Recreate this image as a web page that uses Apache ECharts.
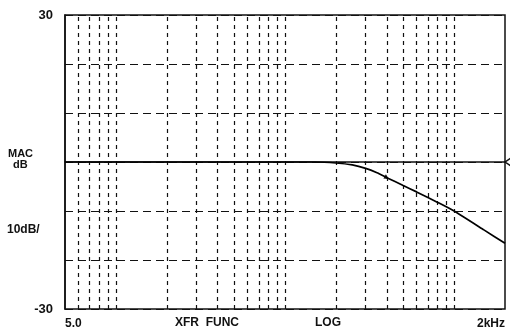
<!DOCTYPE html>
<html>
<head>
<meta charset="utf-8">
<script src="https://cdn.jsdelivr.net/npm/echarts@6/dist/echarts.min.js"></script>
<style>
html,body{margin:0;padding:0;background:#fff;}
#c{width:510px;height:335px;}
</style>
</head>
<body>
<div id="c"></div>
<script>
// Frequency points (Hz) and magnitude (dB)
const freqs = [5, 10, 20, 50, 100, 150, 200, 250, 300, 350, 400, 500, 600, 700, 800, 1000, 1500, 2000];
const magDb = [0, 0, 0, 0, 0, 0, -0.2, -0.6, -1.3, -2.2, -3.2, -4.8, -6.1, -7.25, -8.25, -10.0, -13.85, -16.6];
// Vertical log grid lines
const gridFreqs = [6, 7, 8, 9, 10, 20, 30, 40, 50, 60, 70, 80, 90, 100, 200, 300, 400, 500, 600, 700, 800, 900, 1000];
// Axis range / labels
const xMin = 5, xMax = 2000;
const yMin = -30, yMax = 30, yStep = 10;
const xLabelMin = '5.0', xLabelMax = '2kHz';
const refLevel = 0;
const markerFreq = 400, markerDb = -3.2;

const ink = '#111';
const font = 'Liberation Sans';

const chart = echarts.init(document.getElementById('c'), null, {renderer: 'canvas'});
chart.setOption({
  animation: false,
  backgroundColor: '#fff',
  grid: {left: 65, right: 5, top: 15, bottom: 26, show: true, borderColor: ink, borderWidth: 1.5, backgroundColor: 'transparent'},
  xAxis: {
    type: 'log', logBase: 10, min: xMin, max: xMax,
    axisLine: {show: true, lineStyle: {color: ink, width: 1.5}},
    axisTick: {show: false},
    splitLine: {show: false},
    minorSplitLine: {show: false},
    axisLabel: {
      show: true, margin: 9, color: ink, fontFamily: font, fontWeight: 'bold', fontSize: 12,
      showMinLabel: true, showMaxLabel: true, alignMinLabel: 'left', alignMaxLabel: 'right',
      formatter: function (v) {
        if (Math.abs(v - xMin) < 1e-6) return xLabelMin;
        if (Math.abs(v - xMax) < 1e-3) return xLabelMax;
        return '';
      }
    }
  },
  yAxis: {
    type: 'value', min: yMin, max: yMax, interval: yStep,
    axisLine: {show: true, lineStyle: {color: ink, width: 1.5}},
    axisTick: {show: false},
    splitLine: {show: true, lineStyle: {color: ink, width: 1.2, type: [8, 5]}},
    axisLabel: {
      margin: 12, color: ink, fontFamily: font, fontWeight: 'bold', fontSize: 13,
      formatter: function (v) { return (v === yMin || v === yMax) ? String(v) : ''; }
    }
  },
  graphic: [
    {type: 'text', left: 8, top: 148, style: {text: 'MAC', fill: ink, font: 'bold 11px "Liberation Sans"'}},
    {type: 'text', left: 13, top: 159, style: {text: 'dB', fill: ink, font: 'bold 11px "Liberation Sans"'}},
    {type: 'text', left: 7, top: 224, style: {text: '10dB/', fill: ink, font: 'bold 12px "Liberation Sans"'}},
    {type: 'text', left: 175, top: 317, style: {text: 'XFR  FUNC', fill: ink, font: 'bold 12px "Liberation Sans"'}},
    {type: 'text', left: 315, top: 317, style: {text: 'LOG', fill: ink, font: 'bold 12px "Liberation Sans"'}}
  ],
  series: [{
    type: 'line',
    data: freqs.map((f, i) => [f, magDb[i]]),
    showSymbol: false,
    smooth: 0.15,
    lineStyle: {color: '#000', width: 1.7},
    z: 5,
    markLine: {
      silent: true, symbol: 'none', label: {show: false},
      lineStyle: {color: ink, width: 1.2, type: [4, 4]},
      data: gridFreqs.map(f => ({xAxis: f}))
    },
    markPoint: {
      silent: true, label: {show: false},
      data: [
        {coord: [xMax, refLevel], symbol: 'path://M10,0 L0,5 L10,10', symbolSize: [6, 8], symbolOffset: [3, 0],
         itemStyle: {color: 'none', borderColor: ink, borderWidth: 1.3}},
        {coord: [markerFreq, markerDb], symbol: 'triangle', symbolSize: 5, symbolRotate: -120,
         itemStyle: {color: ink}}
      ]
    }
  }]
});
</script>
</body>
</html>
